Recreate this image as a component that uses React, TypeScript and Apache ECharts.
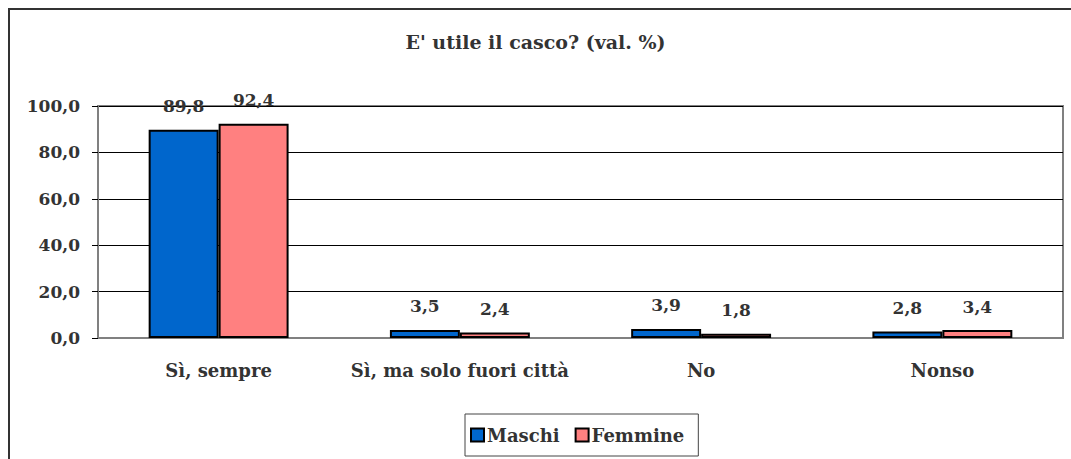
import React, { useEffect, useRef } from "react";
import * as echarts from "echarts";

const categories = ["Sì, sempre", "Sì, ma solo fuori città", "No", "Nonso"];
const maschi = [89.8, 3.5, 3.9, 2.8];
const femmine = [92.4, 2.4, 1.8, 3.4];
const titleText = "E' utile il casco? (val. %)";

const FONT = "DejaVu Serif";
const TXT = "#333333";
const fmt = (v: number) => v.toFixed(1).replace(".", ",");

export default function App() {
  const ref = useRef<HTMLDivElement>(null);
  useEffect(() => {
    if (!ref.current) return;
    const chart = echarts.init(ref.current, null, { renderer: "svg" });
    const labelStyle = {
      show: true,
      position: "top" as const,
      distance: 15,
      fontFamily: FONT,
      fontWeight: "bold" as const,
      fontSize: 17,
      color: TXT,
      formatter: (p: any) => fmt(p.value),
    };
    chart.setOption({
      animation: false,
      backgroundColor: "#ffffff",
      title: {
        text: titleText,
        left: "center",
        top: 27,
        textStyle: { fontFamily: FONT, fontWeight: "bold", fontSize: 19, color: TXT },
      },
      graphic: [
        {
          type: "rect",
          shape: { x: 9, y: 9, width: 1200, height: 600 },
          style: { fill: "none", stroke: "#333333", lineWidth: 2 },
          silent: true,
          z: -1,
        },
      ],
      legend: {
        left: 465,
        top: 414,
        orient: "horizontal",
        borderColor: "#444444",
        borderWidth: 1,
        padding: [12, 14, 12, 5],
        itemWidth: 13,
        itemHeight: 13,
        itemGap: 15,
        icon: "rect",
        textStyle: { fontFamily: FONT, fontWeight: "bold", fontSize: 18, color: TXT, padding: [0, 0, 0, -2] },
        data: ["Maschi", "Femmine"],
      },
      grid: {
        left: 98,
        right: 8,
        top: 106,
        bottom: 121,
        show: true,
        borderColor: "#808080",
        borderWidth: 2,
        backgroundColor: "#ffffff",
      },
      xAxis: {
        type: "category",
        data: categories,
        axisLine: { show: true, lineStyle: { color: "#808080", width: 2 } },
        axisTick: { show: false },
        axisLabel: {
          interval: 0,
          margin: 23,
          fontFamily: FONT,
          fontWeight: "bold",
          fontSize: 18,
          color: TXT,
        },
      },
      yAxis: {
        type: "value",
        min: 0,
        max: 100,
        interval: 20,
        axisLine: { show: true, lineStyle: { color: "#808080", width: 2 } },
        axisTick: { show: true, length: 6, lineStyle: { color: "#000000", width: 1 } },
        splitLine: { show: true, lineStyle: { color: "#000000", width: 1 } },
        axisLabel: {
          margin: 18,
          fontFamily: FONT,
          fontWeight: "bold",
          fontSize: 17,
          color: TXT,
          formatter: (v: number) => fmt(v),
        },
      },
      series: [
        {
          name: "Maschi",
          type: "bar",
          data: maschi,
          barGap: "0%",
          barCategoryGap: "42%",
          itemStyle: { color: "#0066CC", borderColor: "#000000", borderWidth: 2 },
          label: labelStyle,
        },
        {
          name: "Femmine",
          type: "bar",
          data: femmine,
          itemStyle: { color: "#FF8080", borderColor: "#000000", borderWidth: 2 },
          label: labelStyle,
        },
      ],
    });
    return () => chart.dispose();
  }, []);
  return (
    <div
      ref={ref}
      style={{ position: "fixed", left: 0, top: 0, width: 1071, height: 459 }}
    />
  );
}
